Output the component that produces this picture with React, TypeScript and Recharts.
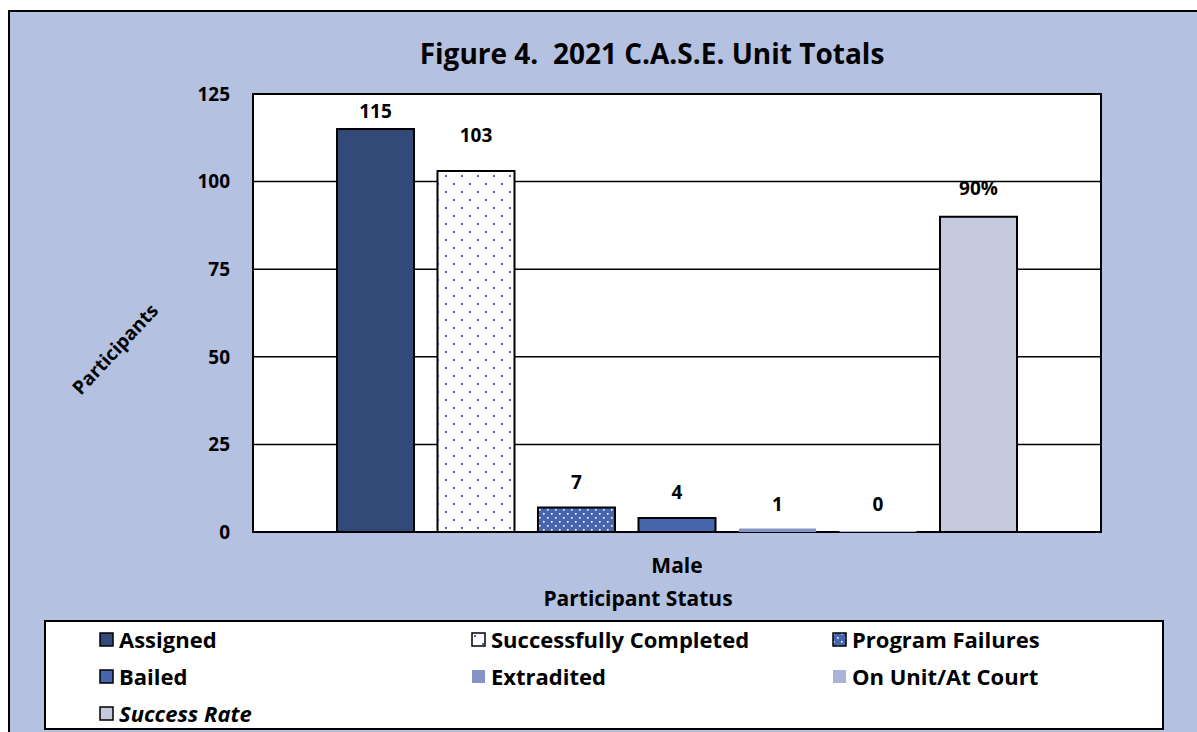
import { BarChart, Bar, XAxis, YAxis, CartesianGrid, ReferenceArea, LabelList, Legend } from 'recharts';

const categories = ['Male'];
const assigned = [115];
const completed = [103];
const failures = [7];
const bailed = [4];
const extradited = [1];
const onUnit = [0];
const successRate = [90];
const yTicks = [0, 25, 50, 75, 100, 125];

const data = categories.map((status, i) => ({
  status,
  assigned: assigned[i],
  completed: completed[i],
  failures: failures[i],
  bailed: bailed[i],
  extradited: extradited[i],
  onUnit: onUnit[i],
  successRate: successRate[i],
}));

const FONT = '"Open Sans", Lato, sans-serif';

type Series = {
  key: string;
  name: string;
  fill: string;
  stroke?: string;
  labelOffset: number;
  italic?: boolean;
  percent?: boolean;
};

const series: Series[] = [
  { key: 'assigned', name: 'Assigned', fill: '#334977', stroke: '#000', labelOffset: 11 },
  { key: 'completed', name: 'Successfully Completed', fill: 'url(#dotsOnWhite)', stroke: '#000', labelOffset: 29 },
  { key: 'failures', name: 'Program Failures', fill: 'url(#dotsOnBlue)', stroke: '#000', labelOffset: 18 },
  { key: 'bailed', name: 'Bailed', fill: '#4766ae', stroke: '#000', labelOffset: 19 },
  { key: 'extradited', name: 'Extradited', fill: '#8593c6', labelOffset: 17 },
  { key: 'onUnit', name: 'On Unit/At Court', fill: '#a9b4d8', labelOffset: 20 },
  { key: 'successRate', name: 'Success Rate', fill: '#c4c9dc', stroke: '#000', labelOffset: 22, italic: true, percent: true },
];

// legend slots inside the white box: [left, top] of each icon
const legendCols = [53, 425, 786];
const legendRows = [2, 39, 76];

const LegendBox = () => (
  <div style={{ position: 'relative', width: '100%', height: '100%' }}>
    {series.map((s, i) => {
      const left = legendCols[i % 3];
      const top = legendRows[Math.floor(i / 3)];
      return (
        <div key={s.key} style={{ position: 'absolute', left, top, display: 'flex', alignItems: 'center', whiteSpace: 'nowrap' }}>
          <svg width={15} height={15} style={{ marginRight: 5 }}>
            <rect x={1} y={1} width={13} height={13} fill={s.fill}
              stroke={s.stroke || 'none'} strokeWidth={s.stroke ? 1.5 : 0} />
          </svg>
          <span style={{ fontFamily: FONT, fontWeight: 700, fontSize: 22, fontStyle: s.italic ? 'italic' : 'normal', color: '#000', lineHeight: '30px' }}>
            {s.name}
          </span>
        </div>
      );
    })}
  </div>
);

export default function App() {
  return (
    <div style={{
      position: 'fixed', left: 8, top: 10, width: 1189, height: 722,
      background: '#b5c1e0', borderTop: '2px solid #000', borderLeft: '2px solid #000',
      boxSizing: 'border-box', overflow: 'hidden',
    }}>
      <div style={{
        position: 'absolute', left: 0, width: 1284, top: 22, textAlign: 'center',
        fontFamily: FONT, fontWeight: 700, fontSize: 28, color: '#000',
      }}>
        Figure 4.&nbsp;&nbsp;2021 C.A.S.E. Unit Totals
      </div>
      <BarChart
        width={1187}
        height={720}
        data={data}
        margin={{ top: 82, right: 96, bottom: 120, left: 183 }}
        barSize={77}
        barGap={23.5}
      >
        <defs>
          <pattern id="dotsOnWhite" width={16} height={16} patternUnits="userSpaceOnUse">
            <rect width={16} height={16} fill="#fff" />
            <rect x={3} y={3} width={2} height={2} fill="#4766ae" />
            <rect x={11} y={11} width={2} height={2} fill="#4766ae" />
          </pattern>
          <pattern id="dotsOnBlue" width={8} height={8} patternUnits="userSpaceOnUse">
            <rect width={8} height={8} fill="#4766ae" />
            <rect x={1} y={1} width={1.6} height={1.6} fill="#fff" />
            <rect x={5} y={5} width={1.6} height={1.6} fill="#fff" />
          </pattern>
        </defs>
        <CartesianGrid vertical={false} stroke="#000" strokeWidth={1.5} fill="#fff" fillOpacity={1} />
        <XAxis
          dataKey="status"
          tickLine={false}
          axisLine={false}
          tickSize={6}
          tickMargin={20}
          height={80}
          tick={{ fontFamily: FONT, fontWeight: 700, fontSize: 21, fill: '#000' }}
          label={{ value: 'Participant Status', position: 'insideBottom', offset: 6, dx: -39,
            style: { fontFamily: FONT, fontWeight: 700, fontSize: 21, fill: '#000' } }}
        />
        <YAxis
          domain={[0, 125]}
          ticks={yTicks}
          width={60}
          tickLine={false}
          axisLine={false}
          tickSize={6}
          tickMargin={17}
          tick={{ fontFamily: FONT, fontWeight: 700, fontSize: 19, fill: '#000' }}
          label={{
            content: (props: any) => {
              const vb = props.viewBox;
              const cx = vb.x - 78;
              const cy = vb.y + vb.height / 2 + 36;
              return (
                <text x={cx} y={cy} transform={`rotate(-47, ${cx}, ${cy})`} textAnchor="middle"
                  dominantBaseline="central" fontFamily={FONT} fontWeight={700} fontSize={19} fill="#000">
                  Participants
                </text>
              );
            },
          }}
        />
        {series.map(s => (
          <Bar
            key={s.key}
            dataKey={s.key}
            name={s.name}
            fill={s.fill}
            stroke={s.stroke || 'none'}
            strokeWidth={s.stroke ? 2 : 0}
            minPointSize={s.key === 'onUnit' ? 1 : 0}
            isAnimationActive={false}
          >
            <LabelList
              dataKey={s.key}
              position="top"
              offset={s.labelOffset}
              formatter={(v: any) => (s.percent ? `${v}%` : `${v}`)}
              style={{ fontFamily: FONT, fontWeight: 700, fontSize: 19, fill: '#000' }}
            />
          </Bar>
        ))}
        <ReferenceArea y1={0} y2={125} fill="none" stroke="#000" strokeWidth={2} ifOverflow="visible" />
        <Legend
          layout="vertical"
          align="center"
          verticalAlign="middle"
          content={<LegendBox />}
          wrapperStyle={{
            left: 34, top: 608, width: 1120, height: 110,
            background: '#fff', border: '2px solid #000', boxSizing: 'border-box',
          }}
        />
      </BarChart>
    </div>
  );
}
